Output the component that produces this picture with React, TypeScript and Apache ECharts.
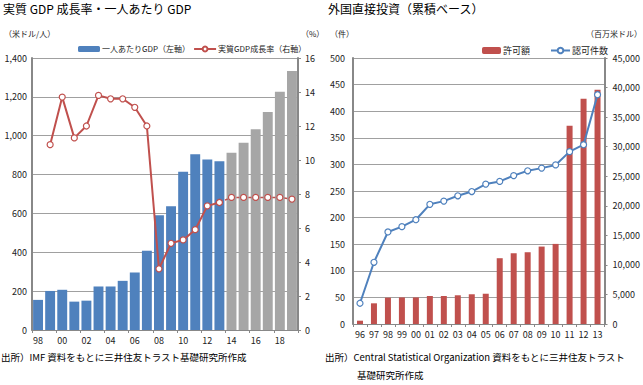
import React, { useEffect, useRef } from "react";
import * as echarts from "echarts";

// ---- Left chart data ----
const gdpYears = ["98","99","00","01","02","03","04","05","06","07","08","09","10","11","12","13","14","15","16","17","18","19"];
const gdpPerCapita = [155,201,207,146,151,224,224,253,296,408,590,637,814,904,878,869,912,964,1033,1122,1226,1333];
const gdpGrowth = [null,10.9,13.7,11.3,12.0,13.8,13.6,13.6,13.1,12.0,3.6,5.1,5.3,5.9,7.3,7.5,7.8,7.8,7.8,7.8,7.8,7.7];
const lastActualYear = "13";
const gdpLeftTicks = { min: 0, max: 1400, interval: 200 };
const gdpRightTicks = { min: 0, max: 16, interval: 2 };

// ---- Right chart data ----
const fdiYears = ["96","97","98","99","00","01","02","03","04","05","06","07","08","09","10","11","12","13"];
const fdiAmount = [560,3500,4460,4500,4500,4740,4740,4860,5030,5120,11130,11970,12140,13100,13550,33540,38110,39640];
const fdiCount = [39,116,173,183,196,225,231,241,249,263,268,279,288,293,299,324,337,431];
const fdiLeftTicks = { min: 0, max: 500, interval: 50 };
const fdiRightTicks = { min: 0, max: 45000, interval: 5000 };

const BLUE = "#4F81BD";
const RED = "#C0504D";
const GRAY = "#A6A6A6";
const FONT = "'Noto Sans CJK JP', sans-serif";

export default function App() {
  const ref = useRef<HTMLDivElement>(null);
  useEffect(() => {
    if (!ref.current) return;
    const chart = echarts.init(ref.current, null, { renderer: "svg" });
    const splitIdx = gdpYears.indexOf(lastActualYear);
    const actual = gdpGrowth.map((v, i) => (i <= splitIdx ? v : null));
    const forecast = gdpGrowth.map((v, i) => (i >= splitIdx ? v : null));
    const fmt = (v: number) => v.toLocaleString("en-US");
    const axisLabel = { fontSize: 9, color: "#222", fontFamily: FONT };
    const splitLine = { show: true, lineStyle: { color: "#A0A0A0", width: 1 } };
    const axisLine = { show: true, lineStyle: { color: "#888", width: 2 } };

    chart.setOption({
      animation: false,
      textStyle: { fontFamily: FONT },
      grid: [
        { left: 32, top: 58, width: 266, height: 272 },
        { left: 353, top: 58, width: 252, height: 266 },
      ],
      legend: [
        {
          data: ["一人あたりGDP（左軸）", "実質GDP成長率（右軸）"],
          left: 78, top: 45, itemWidth: 22, itemHeight: 6, itemGap: 3,
          textStyle: { fontSize: 8, color: "#222", padding: [0, 0, 0, -3] },
          padding: 0,
        },
        {
          data: ["許可額", "認可件数"],
          left: 482, top: 46, itemWidth: 19, itemHeight: 7, itemGap: 20,
          textStyle: { fontSize: 9, color: "#222", padding: [0, 0, 0, -3] },
          padding: 0,
        },
      ],
      xAxis: [
        {
          type: "category", gridIndex: 0, data: gdpYears,
          axisLabel: { ...axisLabel, interval: 1, margin: 6 },
          axisTick: { show: true, length: 3, lineStyle: { color: "#888" } },
          axisLine: { lineStyle: { color: "#888", width: 1 } },
        },
        {
          type: "category", gridIndex: 1, data: fdiYears,
          axisLabel: { ...axisLabel, interval: 0, margin: 6 },
          axisTick: { show: true, length: 3, lineStyle: { color: "#888" } },
          axisLine: { lineStyle: { color: "#888", width: 1 } },
        },
      ],
      yAxis: [
        {
          type: "value", gridIndex: 0, ...gdpLeftTicks,
          axisLabel: { ...axisLabel, formatter: fmt, margin: 5 },
          splitLine, axisLine, axisTick: { show: false },
        },
        {
          type: "value", gridIndex: 0, position: "right", ...gdpRightTicks,
          axisLabel: { ...axisLabel, margin: 7 },
          splitLine: { show: false }, axisLine, axisTick: { show: true, length: 3, inside: false, lineStyle: { color: "#888" } },
        },
        {
          type: "value", gridIndex: 1, ...fdiLeftTicks,
          axisLabel: { ...axisLabel, margin: 8 },
          splitLine, axisLine, axisTick: { show: false },
        },
        {
          type: "value", gridIndex: 1, position: "right", ...fdiRightTicks,
          axisLabel: { ...axisLabel, formatter: fmt, margin: 8 },
          splitLine: { show: false }, axisLine, axisTick: { show: true, length: 3, lineStyle: { color: "#888" } },
        },
      ],
      series: [
        {
          name: "一人あたりGDP（左軸）", type: "bar", xAxisIndex: 0, yAxisIndex: 0,
          barCategoryGap: "18%",
          itemStyle: { color: BLUE },
          data: gdpPerCapita.map((v, i) => ({
            value: v,
            itemStyle: { color: i > splitIdx ? GRAY : BLUE },
          })),
        },
        {
          name: "実質GDP成長率（右軸）", type: "line", xAxisIndex: 0, yAxisIndex: 1,
          data: actual, symbol: "circle", symbolSize: 6, z: 5,
          lineStyle: { color: RED, width: 2 },
          itemStyle: { color: "#fff", borderColor: RED, borderWidth: 1.2 },
        },
        {
          name: "成長率予測", type: "line", xAxisIndex: 0, yAxisIndex: 1,
          data: forecast, symbol: "circle", symbolSize: 6, z: 5,
          lineStyle: { color: RED, width: 1.5, type: [3, 3] },
          itemStyle: { color: "#fff", borderColor: RED, borderWidth: 1.2 },
        },
        {
          name: "許可額", type: "bar", xAxisIndex: 1, yAxisIndex: 3,
          barWidth: 6, itemStyle: { color: RED }, data: fdiAmount,
        },
        {
          name: "認可件数", type: "line", xAxisIndex: 1, yAxisIndex: 2,
          data: fdiCount, symbol: "circle", symbolSize: 6, z: 5,
          lineStyle: { color: BLUE, width: 2 },
          itemStyle: { color: "#fff", borderColor: BLUE, borderWidth: 1.2 },
        },
      ],
      graphic: [
        { type: "text", left: 3, top: 2, style: { text: "実質 GDP 成長率・一人あたり GDP", fontSize: 12, fill: "#000", fontFamily: FONT } },
        { type: "text", left: 4, top: 29, style: { text: "（米ドル/人）", fontSize: 8, fill: "#222", fontFamily: FONT } },
        { type: "text", left: 301, top: 29, style: { text: "（%）", fontSize: 8, fill: "#222", fontFamily: FONT } },
        { type: "text", left: 328, top: 2, style: { text: "外国直接投資（累積ベース）", fontSize: 12, fill: "#000", fontFamily: FONT } },
        { type: "text", left: 330, top: 29, style: { text: "（件）", fontSize: 8, fill: "#222", fontFamily: FONT } },
        { type: "text", left: 586, top: 29, style: { text: "（百万米ドル）", fontSize: 8, fill: "#222", fontFamily: FONT } },
        { type: "text", left: 1, top: 352, style: { text: "出所）IMF 資料をもとに三井住友トラスト基礎研究所作成", fontSize: 9.5, fill: "#000", fontFamily: FONT } },
        { type: "text", left: 325, top: 352, style: { text: "出所）Central Statistical Organization 資料をもとに三井住友トラスト", fontSize: 9.5, fill: "#000", fontFamily: FONT } },
        { type: "text", left: 357, top: 370, style: { text: "基礎研究所作成", fontSize: 9.5, fill: "#000", fontFamily: FONT } },
      ],
    });
    return () => chart.dispose();
  }, []);
  return (
    <div
      ref={ref}
      style={{ position: "absolute", left: 0, top: 0, width: 643, height: 385, background: "#fff" }}
    />
  );
}
